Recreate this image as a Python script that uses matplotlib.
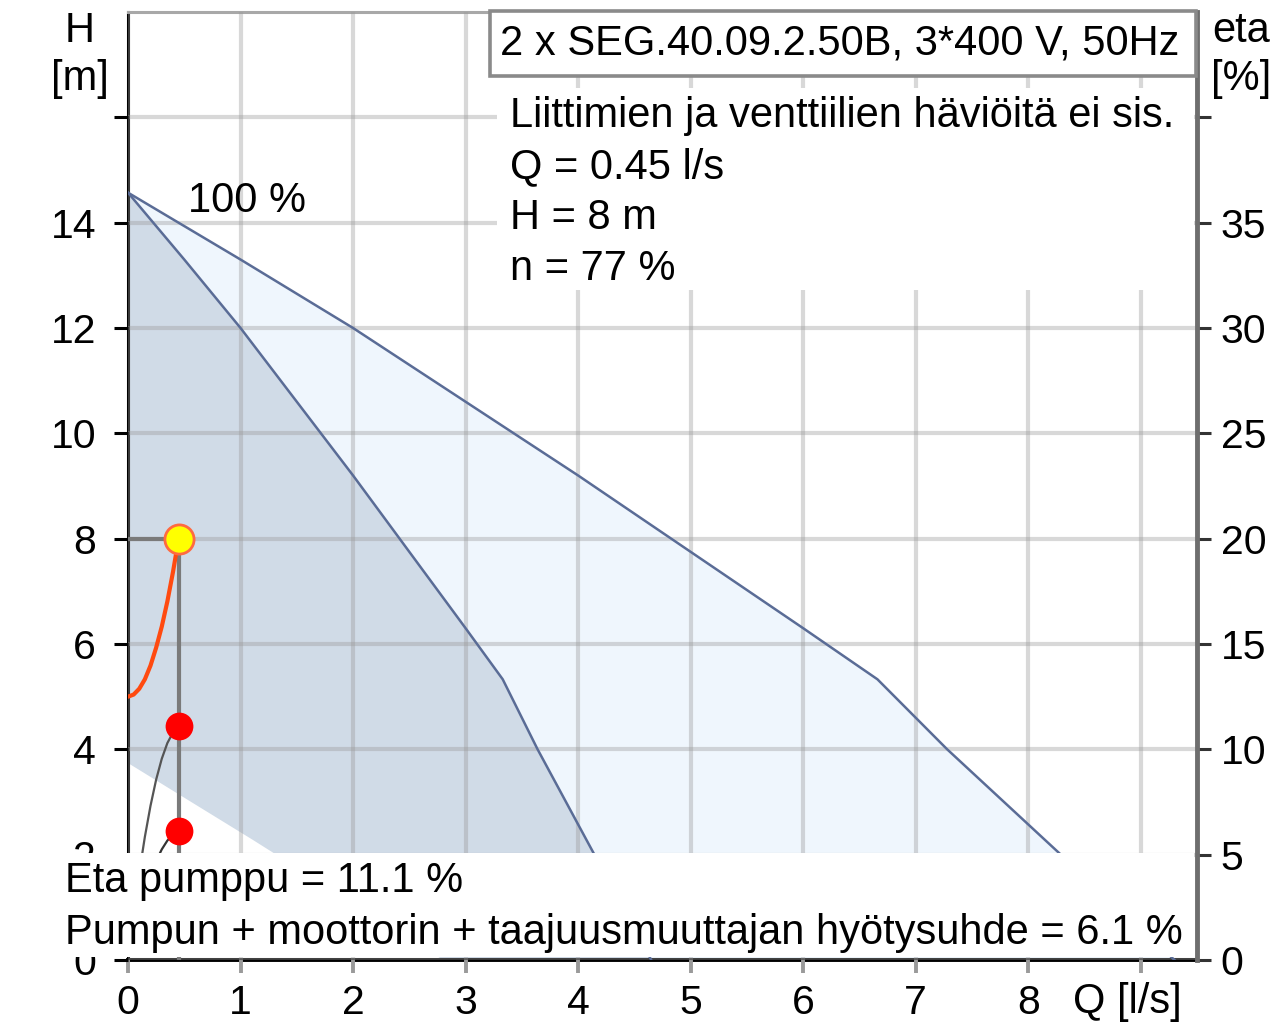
import matplotlib
matplotlib.use("Agg")
import matplotlib.pyplot as plt
from matplotlib.patches import Rectangle

plt.rcParams['font.family'] = ['Liberation Sans', 'DejaVu Sans']

W, HP, DPI = 1275, 1022, 100
FS = 30
FS_TICK = 29.5

# ---------------- data ----------------
q_ticks = [0, 1, 2, 3, 4, 5, 6, 7, 8, 9]
q_tick_labels = ['0', '1', '2', '3', '4', '5', '6', '7', '8', '']
h_ticks = [0, 2, 4, 6, 8, 10, 12, 14, 16]
h_tick_labels = ['0', '2', '4', '6', '8', '10', '12', '14', '']
eta_ticks = [0, 5, 10, 15, 20, 25, 30, 35, 40]
eta_tick_labels = ['0', '5', '10', '15', '20', '25', '30', '35', '']

# 100 % speed curve, one pump
q_one = [0.0, 0.5, 1.0, 1.5, 2.0, 2.5, 3.0, 3.33, 3.64, 4.13, 4.65]
h_one = [14.57, 13.3, 12.0, 10.6, 9.2, 7.75, 6.3, 5.33, 4.0, 2.06, 0.0]
# 100 % speed curve, two pumps
q_two = [0.0, 1.0, 2.0, 3.0, 4.0, 5.0, 6.0, 6.66, 7.28, 8.26, 9.3]
h_two = [14.57, 13.3, 12.0, 10.6, 9.2, 7.75, 6.3, 5.33, 4.0, 2.06, 0.0]
# minimum speed curve (lower border of one-pump range)
q_min = [0.0, 0.6, 1.11, 2.8]
h_min = [3.74, 2.95, 2.28, 0.0]

# system curve
q_sys = [0.0, 0.05, 0.1, 0.15, 0.2, 0.25, 0.3, 0.35, 0.4, 0.45]
h_sys = [5.0, 5.04, 5.15, 5.33, 5.59, 5.93, 6.33, 6.81, 7.37, 8.0]

# efficiency curves (right axis, %)
q_eff = [0.0, 0.05, 0.1, 0.15, 0.2, 0.25, 0.3, 0.35, 0.4, 0.45]
eta_pump = [0.0, 2.19, 4.14, 5.85, 7.32, 8.56, 9.55, 10.3, 10.8, 11.1]
eta_total = [0.0, 1.2, 2.28, 3.2, 4.0, 4.7, 5.25, 5.67, 5.95, 6.1]

# operating point
q_op, h_op = 0.45, 8.0
eta_pump_op, eta_total_op = 11.1, 6.1

title = "2 x SEG.40.09.2.50B, 3*400 V, 50Hz"
info_lines = ["Liittimien ja venttiilien häviöitä ei sis.",
              "Q = 0.45 l/s", "H = 8 m", "n = 77 %"]
bottom_lines = ["Eta pumppu = 11.1 %",
                "Pumpun + moottorin + taajuusmuuttajan hyötysuhde = 6.1 %"]

# ---------------- figure ----------------
fig = plt.figure(figsize=(W / DPI, HP / DPI), dpi=DPI)
L, R, B, T = 128 / W, 1197 / W, 1 - 960 / HP, 1 - 12 / HP
ax = fig.add_axes([L, B, R - L, T - B])
ax.set_xlim(0, 9.5)
ax.set_ylim(0, 18)

fill_dark = '#d0dbe7'
fill_light = '#eff6fd'
curve_col = '#5a6c96'

# light region: between one-pump and two-pump curves
ax.fill(q_two + q_one[::-1], h_two + h_one[::-1], color=fill_light, lw=0, zorder=1)
# dark region: between one-pump curve and minimum speed curve
ax.fill(q_one + q_min[::-1], h_one + h_min[::-1], color=fill_dark, lw=0, zorder=1.1)

ax.plot(q_one, h_one, color=curve_col, lw=1.8, zorder=3)
ax.plot(q_two, h_two, color=curve_col, lw=1.8, zorder=3)

ax.set_axisbelow(False)
ax.grid(True, color=(0.6, 0.6, 0.6), alpha=0.38, lw=3)
for gl in ax.get_xgridlines() + ax.get_ygridlines():
    gl.set_zorder(2)

# operating point lines
ax.plot([0, q_op], [h_op, h_op], color='#7a7a7a', lw=3, zorder=3.5, solid_capstyle='butt')
ax.plot([q_op, q_op], [0, h_op], color='#7a7a7a', lw=3, zorder=3.5, solid_capstyle='butt')
ax.plot(q_sys, h_sys, color='#ff4a10', lw=3, zorder=4)
ax.plot([q_op], [h_op], 'o', ms=21, mfc='#ffff00', mec='#ff6a40', mew=2, zorder=5)

ax.set_xticks(q_ticks)
ax.set_xticklabels(q_tick_labels)
ax.set_yticks(h_ticks)
ax.set_yticklabels(h_tick_labels)
ax.tick_params(axis='y', direction='out', length=10, width=2.2, color='black',
               pad=13, labelsize=FS_TICK)
ax.tick_params(axis='x', direction='out', length=9, width=2.8, color='#9a9a9a',
               pad=8, labelsize=FS_TICK)
for lab in ax.get_yticklabels():
    lab.set_verticalalignment('center_baseline')
ax.spines['left'].set_color('black'); ax.spines['left'].set_linewidth(2.2)
ax.spines['bottom'].set_color('black'); ax.spines['bottom'].set_linewidth(2.8)
ax.spines['top'].set_color('#a8a8a8'); ax.spines['top'].set_linewidth(2.2)
ax.spines['right'].set_visible(False)

ax2 = ax.twinx()
ax2.set_ylim(0, 45)
ax2.set_yticks(eta_ticks)
ax2.set_yticklabels(eta_tick_labels)
ax2.tick_params(axis='y', direction='out', length=10, width=2.2, color='#333333',
                pad=7, labelsize=FS_TICK)
for s in ['left', 'top', 'bottom']:
    ax2.spines[s].set_visible(False)
ax2.spines['right'].set_color('#6e6e6e'); ax2.spines['right'].set_linewidth(3.5)
ax2.plot(q_eff, eta_pump, color='#555555', lw=1.6, zorder=3)
ax2.plot(q_eff, eta_total, color='#333333', lw=1.6, zorder=3)
ax2.plot([q_op, q_op], [eta_pump_op, eta_total_op], 'o', ms=20, color='#ff0000',
         mec='none', zorder=5)


def fy(py):
    return 1 - py / HP


def fx(px):
    return px / W


# white boxes (figure level, above axes)
fig.add_artist(Rectangle((fx(60), fy(957)), fx(1194) - fx(60), fy(853) - fy(957),
                         transform=fig.transFigure, facecolor='white',
                         edgecolor='none', zorder=5))
fig.add_artist(Rectangle((fx(497), fy(290)), fx(1194) - fx(497), fy(88) - fy(290),
                         transform=fig.transFigure, facecolor='white',
                         edgecolor='none', zorder=5))
fig.add_artist(Rectangle((fx(490), fy(76)), fx(1196) - fx(490), fy(11) - fy(76),
                         transform=fig.transFigure, facecolor='white',
                         edgecolor='#8a8a8a', lw=2.6, zorder=5))

fig.text(fx(500), fy(55), title, fontsize=FS, va='baseline', ha='left', zorder=6)
for i, line in enumerate(info_lines):
    fig.text(fx(510), fy(127 + 51 * i), line, fontsize=FS, va='baseline', ha='left', zorder=6)
for i, line in enumerate(bottom_lines):
    fig.text(fx(65), fy(892 + 52 * i), line, fontsize=FS, va='baseline', ha='left', zorder=6)

fig.text(fx(247), fy(212), "100 %", fontsize=FS, va='baseline', ha='center', zorder=6)
fig.text(fx(80), fy(42), "H", fontsize=FS, va='baseline', ha='center')
fig.text(fx(80), fy(90), "[m]", fontsize=FS, va='baseline', ha='center')
fig.text(fx(1241), fy(42), "eta", fontsize=FS, va='baseline', ha='center')
fig.text(fx(1241), fy(90), "[%]", fontsize=FS, va='baseline', ha='center')
fig.text(fx(1127), fy(1013), "Q [l/s]", fontsize=FS, va='baseline', ha='center')

fig.savefig("out.png", dpi=DPI)
